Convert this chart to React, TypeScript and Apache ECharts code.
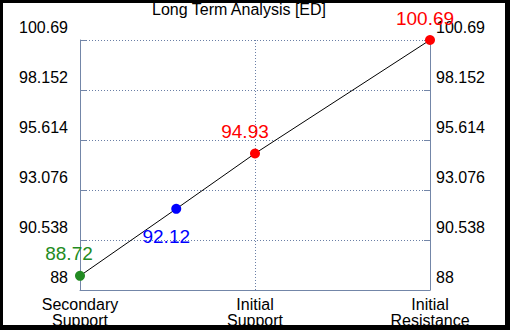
import React, { useEffect, useRef } from "react";
import * as echarts from "echarts";

const title = "Long Term Analysis [ED]";
const categories = ["Secondary\nSupport", "Initial\nSupport", "Initial\nResistance"];
const categoryX = [0, 1, 2];
const pointX = [0, 0.55, 1, 2];
const pointValues = [88.72, 92.12, 94.93, 100.69];
const pointColors = ["#228b22", "#0000ff", "#ff0000", "#ff0000"];
const labelOffsets = [[-11, -22], [-10, 28], [-10, -22], [-5, -22]];
const yTicks = [88, 90.538, 93.076, 95.614, 98.152, 100.69];

const AXIS = "#7386a8";
const GRID = "#6a7fa6";
const FONT = "'Liberation Sans', Arial, sans-serif";

function nearestTick(v: number) {
  let best = yTicks[0];
  for (const t of yTicks) if (Math.abs(t - v) < Math.abs(best - v)) best = t;
  return String(best);
}

export default function App() {
  const ref = useRef<HTMLDivElement>(null);
  useEffect(() => {
    if (!ref.current) return;
    const chart = echarts.init(ref.current, null, { renderer: "svg" });
    const yBase = {
      type: "value",
      min: yTicks[0],
      max: yTicks[yTicks.length - 1],
      interval: yTicks[1] - yTicks[0],
      axisLine: { show: true, lineStyle: { color: AXIS, width: 1 } },
      axisTick: { show: true, inside: true, length: 6, lineStyle: { color: AXIS } },
    };
    chart.setOption({
      animation: false,
      backgroundColor: "#ffffff",
      textStyle: { fontFamily: FONT },
      title: {
        text: title,
        left: 152,
        top: 1,
        padding: 0,
        textStyle: { fontSize: 16, fontWeight: "normal", color: "#000", fontFamily: FONT },
      },
      grid: { left: 80, right: 80, top: 40, bottom: 40, containLabel: false },
      xAxis: {
        type: "value",
        min: 0,
        max: 2,
        interval: 1,
        axisLine: { show: true, lineStyle: { color: AXIS } },
        axisTick: { show: false },
        splitLine: { show: true, lineStyle: { color: GRID, type: [1, 2], width: 1 } },
        axisLabel: {
          margin: 6,
          fontSize: 16,
          lineHeight: 16,
          color: "#000",
          fontFamily: FONT,
          formatter: (v: number) => {
            const i = categoryX.indexOf(Math.round(v));
            return i >= 0 ? categories[i] : "";
          },
        },
      },
      yAxis: [
        {
          ...yBase,
          position: "left",
          splitLine: { show: true, lineStyle: { color: GRID, type: [1, 2], width: 1 } },
          axisLabel: {
            margin: 12,
            fontSize: 16,
            color: "#000",
            fontFamily: FONT,
            lineHeight: 26,
            verticalAlign: "bottom",
            formatter: (v: number) => nearestTick(v),
          },
        },
        {
          ...yBase,
          position: "right",
          splitLine: { show: false },
          axisLabel: {
            margin: 6,
            fontSize: 16,
            color: "#000",
            fontFamily: FONT,
            lineHeight: 26,
            verticalAlign: "bottom",
            formatter: (v: number) => nearestTick(v),
          },
        },
      ],
      series: [
        {
          type: "line",
          data: pointValues.map((v, i) => ({
            value: [pointX[i], v],
            itemStyle: { color: pointColors[i] },
            label: {
              show: true,
              position: "inside",
              offset: labelOffsets[i],
              color: pointColors[i],
              fontSize: 19,
              fontFamily: FONT,
              formatter: () => String(v),
            },
          })),
          symbol: "circle",
          symbolSize: 10,
          lineStyle: { color: "#000", width: 1 },
          itemStyle: { borderWidth: 0 },
          z: 5,
        },
      ],
    });
    return () => chart.dispose();
  }, []);
  return (
    <div style={{ position: "fixed", left: 0, top: 0, width: 510, height: 330 }}>
      <div ref={ref} style={{ width: 510, height: 330 }} />
      <div
        style={{
          position: "absolute",
          left: 0,
          top: 0,
          width: 510,
          height: 330,
          boxSizing: "border-box",
          borderTop: "3px solid #000",
          borderLeft: "3px solid #000",
          borderRight: "5px solid #000",
          borderBottom: "5px solid #000",
          pointerEvents: "none",
        }}
      />
    </div>
  );
}
